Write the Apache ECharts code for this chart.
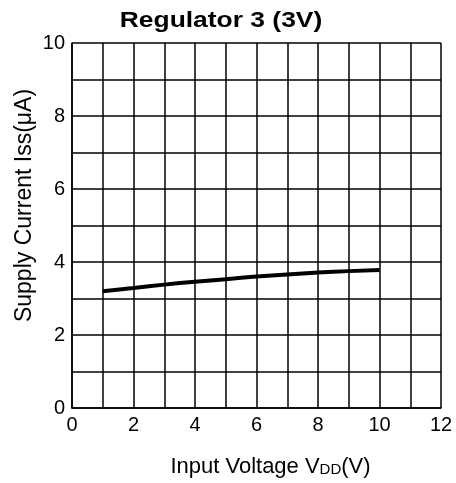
<!DOCTYPE html>
<html>
<head>
<meta charset="utf-8">
<script src="https://cdn.jsdelivr.net/npm/echarts@6/dist/echarts.min.js"></script>
<style>
  html, body { margin: 0; padding: 0; background: #fff; }
  #main { width: 456px; height: 483px; }
</style>
</head>
<body>
<div id="main"></div>
<script>
// data
var voltage = [1, 2, 3, 4, 5, 6, 7, 8, 9, 10];
var current = [3.2, 3.29, 3.38, 3.46, 3.53, 3.6, 3.66, 3.71, 3.75, 3.78];
var xTicks = [0, 2, 4, 6, 8, 10, 12];
var yTicks = [0, 2, 4, 6, 8, 10];
var titleText = 'Regulator 3 (3V)';

var chartDom = document.getElementById('main');
var myChart = echarts.init(chartDom);
var font = 'Liberation Sans, Arial, sans-serif';

var option = {
    animation: false,
    // title drawn as graphic text so it can be stretched a bit like the original
    graphic: [{
        type: 'text',
        x: 221,
        y: 21,
        scaleX: 1.2,
        style: {
            text: titleText,
            font: 'bold 22px ' + font,
            fill: '#000',
            align: 'center',
            verticalAlign: 'middle'
        }
    }],
    grid: { left: 72, right: 15, top: 43, bottom: 75 },
    xAxis: {
        type: 'value',
        min: 0,
        max: 12,
        interval: 1,
        name: 'Input Voltage V{s|DD}(V)',
        nameLocation: 'middle',
        nameGap: 48,
        nameTextStyle: {
            fontFamily: font, fontSize: 22, color: '#000',
            padding: [0, 0, 0, 28],
            rich: { s: { fontFamily: font, fontSize: 15, color: '#000', padding: [5, 0, 0, 0] } }
        },
        axisLine: { lineStyle: { color: '#000', width: 1.5 } },
        axisTick: { show: false },
        axisLabel: {
            fontFamily: font, fontSize: 20, color: '#000', margin: 7,
            formatter: function (v) { return xTicks.indexOf(v) >= 0 ? String(v) : ''; }
        },
        splitLine: { show: true, lineStyle: { color: '#000', width: 1.5 } }
    },
    yAxis: {
        type: 'value',
        min: 0,
        max: 10,
        interval: 1,
        name: 'Supply Current Iss(μA)',
        nameLocation: 'middle',
        nameRotate: 90,
        nameGap: 36,
        nameMoveOverlap: false,
        nameTextStyle: {
            fontFamily: font, fontSize: 23, color: '#000',
            padding: [0, 0, 0, 40]
        },
        axisLine: { show: true, lineStyle: { color: '#000', width: 1.5 } },
        axisTick: { show: false },
        axisLabel: {
            fontFamily: font, fontSize: 20, color: '#000', margin: 7,
            formatter: function (v) { return yTicks.indexOf(v) >= 0 ? String(v) : ''; }
        },
        splitLine: { show: true, lineStyle: { color: '#000', width: 1.5 } }
    },
    series: [{
        type: 'line',
        data: voltage.map(function (v, i) { return [v, current[i]]; }),
        smooth: true,
        showSymbol: false,
        lineStyle: { color: '#000', width: 4 }
    }]
};
option && myChart.setOption(option);
</script>
</body>
</html>
